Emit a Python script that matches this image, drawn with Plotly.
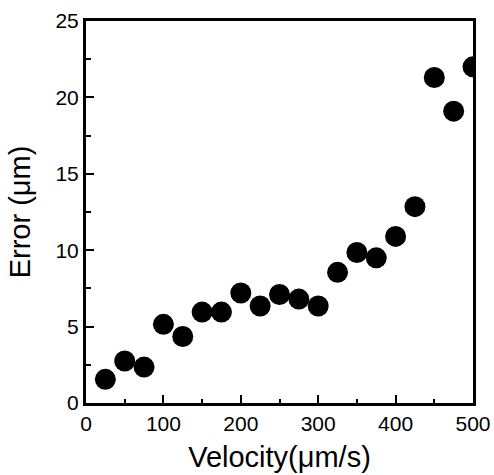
import plotly.graph_objects as go

velocity = [25, 50, 75, 100, 125, 150, 175, 200, 225, 250, 275, 300, 325, 350, 375, 400, 425, 450, 475, 500]
error = [1.55, 2.75, 2.35, 5.15, 4.35, 5.95, 5.95, 7.2, 6.35, 7.1, 6.8, 6.35, 8.55, 9.85, 9.5, 10.9, 12.85, 21.3, 19.1, 22.0]

x_ticks = [0, 100, 200, 300, 400, 500]
y_ticks = [0, 5, 10, 15, 20, 25]

FONT = "Liberation Sans, Arial, sans-serif"

fig = go.Figure(
    go.Scatter(
        x=velocity, y=error, mode="markers",
        marker=dict(color="black", size=21, line=dict(width=0)),
        cliponaxis=True,
        hoverinfo="skip",
    )
)

axis_common = dict(
    showline=True, linecolor="black", linewidth=3, mirror=True,
    showgrid=False, zeroline=False,
    ticks="inside", tickcolor="black", tickwidth=1.5, ticklen=8,
    tickfont=dict(family=FONT, size=21, color="black"),
    title_font=dict(family=FONT, size=29, color="black"),
)

fig.update_xaxes(
    range=[0, 500], tickvals=x_ticks, ticktext=[str(v) for v in x_ticks],
    minor=dict(ticks="inside", ticklen=4, dtick=50, tickcolor="black", tickwidth=1.5),
    title=dict(text="Velocity(μm/s)", standoff=13),
    **axis_common,
)
fig.update_yaxes(
    range=[0, 25], tickvals=y_ticks, ticktext=[str(v) for v in y_ticks],
    minor=dict(ticks="inside", ticklen=5, dtick=2.5, tickcolor="black", tickwidth=1.5),
    title=dict(text="Error (μm)", standoff=17),
    **axis_common,
)

fig.update_layout(
    width=494, height=475,
    margin=dict(l=86, r=21, t=21, b=72, autoexpand=False),
    plot_bgcolor="white", paper_bgcolor="white",
    showlegend=False,
    font=dict(family=FONT, color="black"),
)

# remove the default 8px page margin so the figure fills the window exactly
fig.write_html(
    "out.html",
    config={"displayModeBar": False},
    post_script="document.body.style.margin='0';document.body.style.overflow='hidden';",
)
